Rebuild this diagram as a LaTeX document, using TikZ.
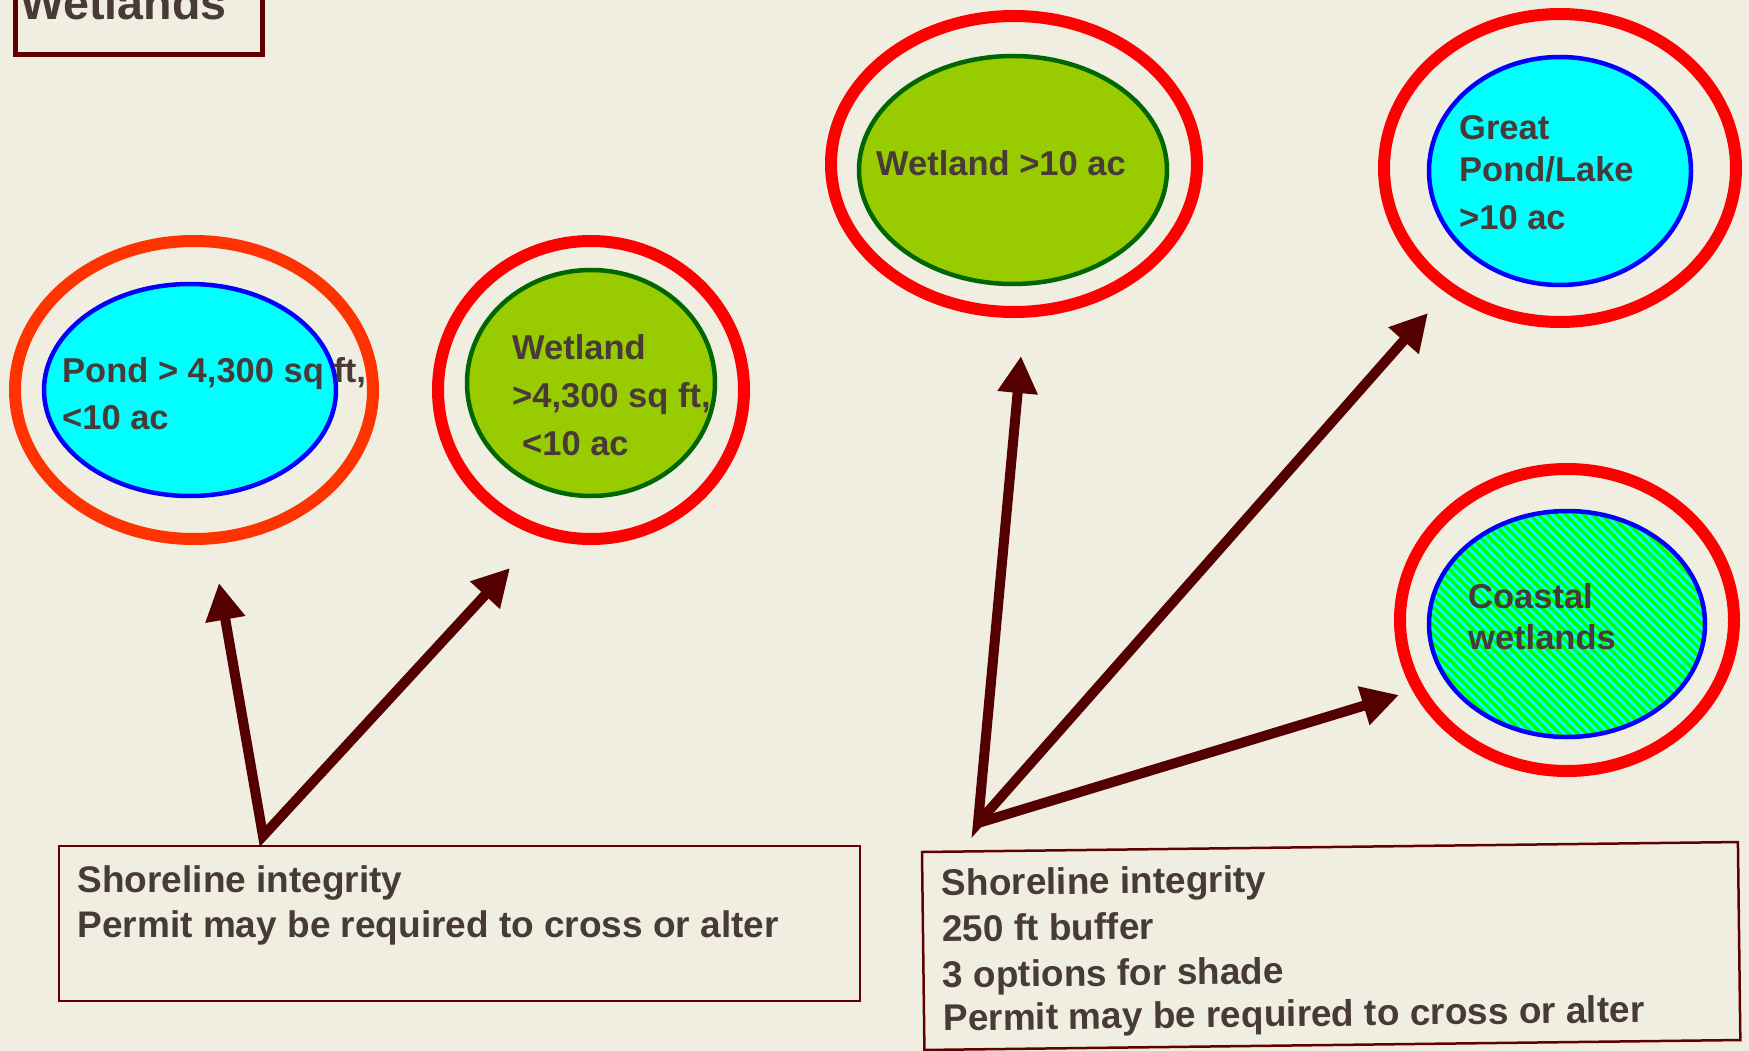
\documentclass[tikz,border=0pt]{standalone}
\usepackage{fontspec}
\setmainfont{Liberation Sans}
\usetikzlibrary{shapes.geometric,arrows.meta}
\definecolor{bg}{RGB}{240,238,225}
\definecolor{txt}{RGB}{72,58,55}
\definecolor{maroon}{RGB}{85,0,0}
\definecolor{boxline}{RGB}{96,0,0}
\definecolor{ringred}{RGB}{255,0,0}
\definecolor{ringorange}{RGB}{255,51,0}
\definecolor{wetgreen}{RGB}{153,204,0}
\definecolor{darkgreen}{RGB}{0,102,0}
\definecolor{pondcyan}{RGB}{0,255,255}
\definecolor{pondblue}{RGB}{0,0,255}
\definecolor{stripegreen}{RGB}{0,255,0}
\begin{document}
\begin{tikzpicture}[x=1pt,y=-1pt,
  ring/.style={ellipse, draw=ringred, line width=12pt, inner sep=0pt, outer sep=0pt},
  pondbody/.style={ellipse, draw=pondblue, fill=pondcyan, line width=4.5pt, inner sep=0pt, outer sep=0pt},
  wetbody/.style={ellipse, draw=darkgreen, fill=wetgreen, line width=4.5pt, inner sep=0pt, outer sep=0pt},
  lbl/.style={anchor=base west, inner sep=0pt, text=txt, font=\fontsize{34.5}{40}\selectfont\bfseries},
  boxlbl/.style={anchor=base west, inner sep=0pt, text=txt, font=\fontsize{37}{44}\selectfont\bfseries},
  pointer/.style={draw=maroon, line width=10pt, line join=miter, miter limit=20},
  twoheads/.style={pointer, {Triangle[length=37pt,width=38pt]}-{Triangle[length=37pt,width=38pt]}},
  onehead/.style={pointer, -{Triangle[length=37pt,width=38pt]}},
  infobox/.style={draw=boxline, line width=2.5pt},
  stripe/.style={draw=stripegreen, line width=3.4pt},
  ]
\useasboundingbox (0,0) rectangle (1749,1051);
\clip (0,0) rectangle (1749,1051);
\fill[bg] (0,0) rectangle (1749,1051);

% title box
\draw[draw=boxline, line width=5pt] (15.5,-60) rectangle (262.5,54.5);
\node[anchor=base west, inner sep=0pt, text=txt, font=\fontsize{46.6}{50}\selectfont\bfseries] (title) at (20,20) {Wetlands};

% pond < 10 ac
\node[ring, draw=ringorange, minimum width=358pt, minimum height=298pt] (pondring) at (194,390) {};
\node[pondbody, minimum width=292pt, minimum height=212pt] (pond) at (190,390) {};
\node[lbl] (pondA) at (62,382) {Pond > 4,300 sq ft,};
\node[lbl] (pondB) at (62,429) {<10 ac};

% wetland < 10 ac
\node[ring, minimum width=306pt, minimum height=298pt] (wetring) at (591,390) {};
\node[wetbody, minimum width=248pt, minimum height=226pt] (wet) at (591,383) {};
\node[lbl] (wetA) at (512,359) {Wetland};
\node[lbl] (wetB) at (512,407) {>4,300 sq ft,};
\node[lbl] (wetC) at (522,455) {<10 ac};

% wetland > 10 ac
\node[ring, minimum width=366pt, minimum height=296pt] (bigwetring) at (1014,164) {};
\node[wetbody, minimum width=308pt, minimum height=228pt] (bigwet) at (1013,170) {};
\node[lbl] (bigwetA) at (876,176) {Wetland >10 ac};

% great pond
\node[ring, minimum width=352pt, minimum height=308pt] (greatring) at (1560,168) {};
\node[pondbody, minimum width=262pt, minimum height=228pt] (great) at (1560,171) {};
\node[lbl] (greatA) at (1459,140) {Great};
\node[lbl] (greatB) at (1459,182) {Pond/Lake};
\node[lbl] (greatC) at (1459,230) {>10 ac};

% coastal wetlands
\node[ring, minimum width=334pt, minimum height=302pt] (coastring) at (1567,620) {};
\node[ellipse, draw=pondblue, fill=pondcyan, line width=4.5pt, inner sep=0pt, outer sep=0pt,
      minimum width=276pt, minimum height=226pt,
      path picture={
        \foreach \k in {-40,...,40}
          \draw[stripe] ([xshift=\k*9pt]path picture bounding box.center) ++(-200pt,200pt) -- ++(400pt,-400pt);
      }] (coast) at (1567,624) {};
\node[lbl] (coastA) at (1468,608) {Coastal};
\node[lbl] (coastB) at (1468,649) {wetlands};

% left info box
\draw[infobox] (59,846) rectangle (860,1001);
\node[boxlbl] (leftA) at (77.5,892) {Shoreline integrity};
\node[boxlbl] (leftB) at (77.5,937) {Permit may be required to cross or alter};

% right info box (slightly tilted)
\begin{scope}[rotate around={0.7:(922,852)}, transform shape]
  \draw[infobox] (922,852) rectangle (1738,1050);
  \node[boxlbl] (rightA) at (941,896) {Shoreline integrity};
  \node[boxlbl] (rightB) at (941,942) {250 ft buffer};
  \node[boxlbl] (rightC) at (941,988) {3 options for shade};
  \node[boxlbl] (rightD) at (941,1031) {Permit may be required to cross or alter};
\end{scope}

% arrows
\coordinate (oL) at (263,836);
\coordinate (tA) at (219,583);
\coordinate (tB) at (510,568);
\coordinate (oR) at (978,823);
\coordinate (tC) at (1021,356);
\coordinate (tD) at (1428,313);
\coordinate (tE) at (1399,695);
\draw[twoheads] (tA) -- (oL) -- (tB);
\draw[twoheads] (tC) -- (oR) -- (tD);
\draw[onehead] (oR) -- (tE);
\end{tikzpicture}
\end{document}
